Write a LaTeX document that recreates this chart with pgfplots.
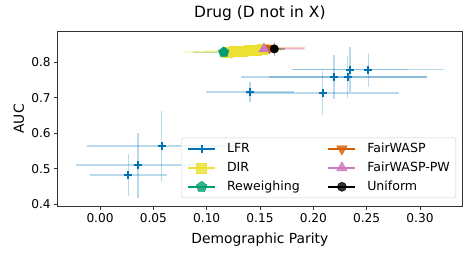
\documentclass[border=0pt]{standalone}
\usepackage{fontspec}
\setmainfont{DejaVu Sans}
\usepackage{pgfplots}
\pgfplotsset{compat=1.18}
\definecolor{cblue}{HTML}{0173B2}
\definecolor{cyellow}{HTML}{ECE133}
\definecolor{cgreen}{HTML}{029E73}
\definecolor{cverm}{HTML}{D55E00}
\definecolor{cpink}{HTML}{CC78BC}
\pgfplotsset{
  ebar/.style={error bars/.cd, x dir=both, x explicit, y dir=both, y explicit,
    error mark=none, error bar style={line width=1.5bp, #1, opacity=0.27}},
}
\begin{document}
\begin{tikzpicture}
\begin{axis}[
  name=ax,
  scale only axis, width=404.3bp, height=174.3bp,
  xmin=-0.0397, xmax=0.3394, ymin=0.395, ymax=0.886,
  xtick={0,0.05,0.10,0.15,0.20,0.25,0.30},
  ytick={0.4,0.5,0.6,0.7,0.8},
  xticklabel style={/pgf/number format/.cd, fixed, fixed zerofill, precision=2},
  yticklabel style={/pgf/number format/.cd, fixed, fixed zerofill, precision=1},
  /pgf/number format/assume math mode=true,
  ticklabel style={font=\fontsize{12.2}{13}\selectfont},
  tick align=outside, tick pos=left,
  major tick length=3.5bp,
  tick style={black!80, line width=0.8bp},
  axis line style={black!80, line width=0.8bp},
  title={Drug (D not in X)},
  title style={font=\fontsize{15.5}{17}\selectfont, at={(axis description cs:0.5,1.05)}, anchor=base},
  xlabel={Demographic Parity},
  xlabel style={font=\fontsize{13.9}{15}\selectfont, at={(axis description cs:0.5,-0.2123)}, anchor=base},
  ylabel={AUC},
  ylabel style={font=\fontsize{13.9}{15}\selectfont, at={(axis description cs:-0.0834,0.5)}, anchor=base, rotate=0},
  legend columns=2,
  legend cell align=left,
  legend style={at={(axis description cs:1,0)}, anchor=south east, xshift=-6bp, yshift=8bp,
    draw=black!20, rounded corners=2bp, fill=white, fill opacity=0.8, text opacity=1,
    font=\fontsize{12.6}{14}\selectfont,
    inner xsep=6bp, inner ysep=5bp,
    nodes={inner xsep=0pt, inner ysep=0pt, text height=9.5bp, text depth=2.5bp},
    row sep=7bp,
    /tikz/every odd column/.style={column sep=11bp},
    /tikz/every even column/.style={column sep=27.8bp}},
  legend image code/.code={\draw[mark repeat=2, mark phase=2, #1] plot coordinates {(0bp,0bp) (13.5bp,0bp) (27bp,0bp)};},
]
% legend images (row-wise order to mimic column-wise fill)
\addlegendimage{cblue, line width=1.8bp, mark=+, mark size=4bp, mark options={line width=1.8bp}}
\addlegendentry{LFR}
\addlegendimage{cverm, line width=1.8bp, mark=triangle*, mark size=6bp, mark options={rotate=180, line width=0.5bp}}
\addlegendentry{FairWASP}
\addlegendimage{cyellow, line width=1.8bp, mark=square*, mark size=5bp, mark options={line width=0.5bp}}
\addlegendentry{DIR}
\addlegendimage{cpink, line width=1.8bp, mark=triangle*, mark size=6bp, mark options={line width=0.5bp}}
\addlegendentry{FairWASP-PW}
\addlegendimage{cgreen, line width=1.8bp, mark=pentagon*, mark size=5.5bp, mark options={line width=0.5bp}}
\addlegendentry{Reweighing}
\addlegendimage{black, line width=1.8bp, mark=*, mark size=4.5bp, mark options={line width=0.5bp}}
\addlegendentry{Uniform}

% LFR
\addplot[forget plot, only marks, cblue, mark=+, mark size=4bp, mark options={line width=2bp}, ebar=cblue]
 table[x=x, y=y, x error=ex, y error=ey] {
x y ex ey
0.0266 0.4825 0.036 0.060
0.0356 0.510 0.058 0.092
0.0578 0.564 0.070 0.100
0.1406 0.7163 0.041 0.027
0.2087 0.7135 0.072 0.063
0.2194 0.7586 0.087 0.062
0.2322 0.7586 0.074 0.060
0.2344 0.779 0.054 0.063
0.2516 0.779 0.071 0.048
};
% DIR
\addplot[forget plot, only marks, cyellow, mark=square*, mark size=5bp, mark options={line width=0.3bp}, ebar=cyellow]
 table[x=x, y=y, x error=ex, y error=ey] {
x y ex ey
0.119 0.829 0.040 0.004
0.126 0.830 0.040 0.004
0.133 0.832 0.035 0.005
0.140 0.833 0.030 0.005
0.146 0.835 0.025 0.005
0.152 0.837 0.020 0.006
};
% Reweighing
\addplot[forget plot, only marks, cgreen, mark=pentagon*, mark size=5.5bp, mark options={line width=0.3bp}, ebar=cgreen]
 table[x=x, y=y, x error=ex, y error=ey] {
x y ex ey
0.116 0.828 0.029 0.004
};
% FairWASP
\addplot[forget plot, only marks, cverm, mark=triangle*, mark size=6bp, mark options={rotate=180, line width=0.3bp}, ebar=cverm]
 table[x=x, y=y, x error=ex, y error=ey] {
x y ex ey
0.1588 0.840 0.033 0.010
};
% FairWASP-PW
\addplot[forget plot, only marks, cpink, mark=triangle*, mark size=6bp, mark options={line width=0.3bp}, ebar=cpink]
 table[x=x, y=y, x error=ex, y error=ey] {
x y ex ey
0.1537 0.8375 0.038 0.012
};
% Uniform
\addplot[forget plot, only marks, black, mark=*, mark size=4.3bp, mark options={line width=0.3bp}, ebar=black]
 table[x=x, y=y, x error=ex, y error=ey] {
x y ex ey
0.1634 0.8375 0.010 0.020
};
\end{axis}
\pgfresetboundingbox
\path[use as bounding box] ([xshift=-57.7bp,yshift=-53bp]ax.south west) rectangle ([xshift=13bp,yshift=31.7bp]ax.north east);
\end{tikzpicture}
\end{document}
